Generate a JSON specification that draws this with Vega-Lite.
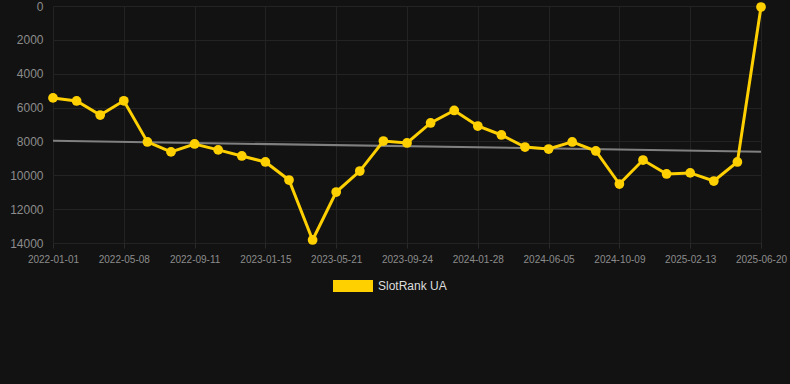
{
  "$schema": "https://vega.github.io/schema/vega-lite/v6.json",
  "width": 708,
  "height": 237,
  "autosize": "none",
  "padding": {"left": 53, "top": 6, "right": 29, "bottom": 141},
  "background": "#121212",
  "config": {
    "view": {"stroke": null},
    "font": "Liberation Sans",
    "axis": {"gridColor": "#232323", "domain": false, "labelColor": "#8c8c8c", "tickColor": "#2a2a2a"}
  },
  "datasets": {
    "main": [
      {"date": "2022-01-01", "rank": 5430},
      {"date": "2022-02-12", "rank": 5610},
      {"date": "2022-03-26", "rank": 6440},
      {"date": "2022-05-08", "rank": 5600},
      {"date": "2022-06-19", "rank": 8030},
      {"date": "2022-07-31", "rank": 8620},
      {"date": "2022-09-11", "rank": 8150},
      {"date": "2022-10-23", "rank": 8500},
      {"date": "2022-12-04", "rank": 8860},
      {"date": "2023-01-15", "rank": 9215},
      {"date": "2023-02-26", "rank": 10280},
      {"date": "2023-04-09", "rank": 13820},
      {"date": "2023-05-21", "rank": 10990},
      {"date": "2023-07-02", "rank": 9750},
      {"date": "2023-08-13", "rank": 7975},
      {"date": "2023-09-24", "rank": 8090},
      {"date": "2023-11-05", "rank": 6910},
      {"date": "2023-12-17", "rank": 6170},
      {"date": "2024-01-28", "rank": 7090},
      {"date": "2024-03-11", "rank": 7620},
      {"date": "2024-04-23", "rank": 8330},
      {"date": "2024-06-05", "rank": 8450},
      {"date": "2024-07-17", "rank": 8030},
      {"date": "2024-08-28", "rank": 8565},
      {"date": "2024-10-09", "rank": 10515},
      {"date": "2024-11-20", "rank": 9100},
      {"date": "2025-01-01", "rank": 9920},
      {"date": "2025-02-13", "rank": 9860},
      {"date": "2025-03-27", "rank": 10340},
      {"date": "2025-05-08", "rank": 9215},
      {"date": "2025-06-20", "rank": 60}
    ],
    "trend": [
      {"date": "2022-01-01", "rank": 7960},
      {"date": "2025-06-20", "rank": 8610}
    ]
  },
  "encoding": {
    "x": {
      "field": "date", "type": "ordinal",
      "scale": {"type": "point", "padding": 0, "domain": ["2022-01-01", "2022-02-12", "2022-03-26", "2022-05-08", "2022-06-19", "2022-07-31", "2022-09-11", "2022-10-23", "2022-12-04", "2023-01-15", "2023-02-26", "2023-04-09", "2023-05-21", "2023-07-02", "2023-08-13", "2023-09-24", "2023-11-05", "2023-12-17", "2024-01-28", "2024-03-11", "2024-04-23", "2024-06-05", "2024-07-17", "2024-08-28", "2024-10-09", "2024-11-20", "2025-01-01", "2025-02-13", "2025-03-27", "2025-05-08", "2025-06-20"]},
      "axis": {
        "title": null, "labelAngle": 0, "labelFontSize": 10, "labelPadding": 6, "tickSize": 5,
        "grid": true,
        "values": ["2022-01-01", "2022-05-08", "2022-09-11", "2023-01-15", "2023-05-21", "2023-09-24", "2024-01-28", "2024-06-05", "2024-10-09", "2025-02-13", "2025-06-20"]
      }
    },
    "y": {
      "field": "rank", "type": "quantitative",
      "scale": {"domain": [0, 14000], "reverse": true, "nice": false},
      "axis": {"title": null, "labelFontSize": 12, "labelPadding": 10, "ticks": false, "values": [0, 2000, 4000, 6000, 8000, 10000, 12000, 14000], "grid": true, "format": "d"}
    }
  },
  "layer": [
    {
      "data": {"name": "trend"},
      "mark": {"type": "line", "color": "#808080", "strokeWidth": 2},
      "encoding": {}
    },
    {
      "data": {"name": "main"},
      "mark": {"type": "line", "strokeWidth": 3, "point": {"filled": true, "size": 95, "opacity": 1}},
      "encoding": {
        "color": {
          "datum": "SlotRank UA", "type": "nominal",
          "scale": {"range": ["#ffd000"]},
          "legend": {
            "title": null, "orient": "none", "legendX": 280, "legendY": 260,
            "symbolType": "M-1,-0.3L1,-0.3L1,0.3L-1,0.3Z", "symbolSize": 1600,
            "symbolStrokeWidth": 0, "labelColor": "#dddddd", "labelFontSize": 12, "labelOffset": 5
          }
        }
      }
    }
  ]
}
